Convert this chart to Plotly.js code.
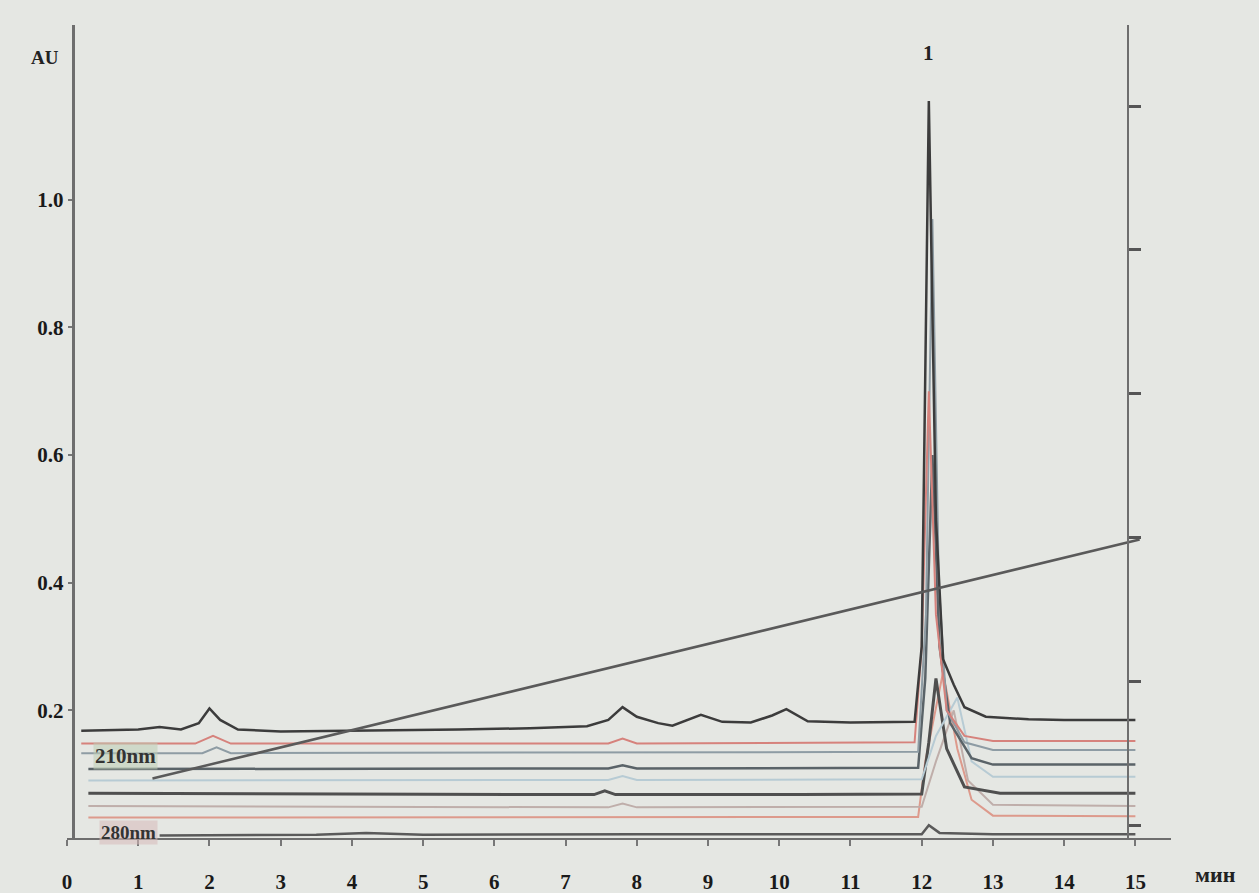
<!DOCTYPE html>
<html>
<head>
<meta charset="utf-8">
<script src="https://cdn.plot.ly/plotly-3.0.1.min.js"></script>
<style>
  html, body { margin: 0; padding: 0; background: #e5e7e3; }
  #chart { width: 1259px; height: 893px; }
</style>
</head>
<body>
<div id="chart"></div>
<script>
// ---- data ----
var xTicks = [0,1,2,3,4,5,6,7,8,9,10,11,12,13,14,15];
var yTicks = [0.2, 0.4, 0.6, 0.8, 1.0];
var yTickText = ['0.2', '0.4', '0.6', '0.8', '1.0'];

// trace A (dark grey, top baseline)
var tA = [0.2, 1.0, 1.3, 1.6, 1.85, 2.0, 2.15, 2.4, 3.0, 4.0, 4.5, 5.5, 6.5, 7.3, 7.6, 7.8, 8.0, 8.3, 8.5, 8.7, 8.9, 9.2, 9.6, 9.9, 10.1, 10.4, 11.0, 11.9, 12.0, 12.1, 12.2, 12.3, 12.45, 12.6, 12.9, 13.5, 14.0, 15.0];
var yA = [0.168, 0.170, 0.174, 0.170, 0.180, 0.203, 0.185, 0.170, 0.167, 0.168, 0.168, 0.170, 0.172, 0.175, 0.185, 0.205, 0.190, 0.180, 0.176, 0.185, 0.193, 0.182, 0.181, 0.192, 0.202, 0.183, 0.181, 0.182, 0.30, 1.155, 0.50, 0.28, 0.24, 0.205, 0.190, 0.186, 0.185, 0.185];
// trace B (pink/red)
var tB = [0.2, 1.8, 2.05, 2.3, 7.6, 7.8, 8.0, 11.9, 12.0, 12.1, 12.2, 12.35, 12.6, 13.0, 15.0];
var yB = [0.148, 0.148, 0.160, 0.148, 0.148, 0.156, 0.148, 0.150, 0.30, 0.70, 0.35, 0.20, 0.160, 0.152, 0.152];
// trace C (blue-grey)
var tC = [0.2, 1.9, 2.1, 2.3, 11.95, 12.06, 12.15, 12.24, 12.35, 12.6, 13.0, 15.0];
var yC = [0.133, 0.133, 0.142, 0.133, 0.135, 0.35, 0.97, 0.40, 0.20, 0.150, 0.138, 0.138];
// trace D (dark slate)
var tD = [0.3, 2.0, 7.6, 7.8, 8.0, 11.95, 12.05, 12.15, 12.25, 12.4, 12.7, 13.0, 15.0];
var yD = [0.108, 0.108, 0.109, 0.114, 0.109, 0.110, 0.25, 0.60, 0.30, 0.18, 0.125, 0.115, 0.115];
// trace E (light blue)
var tE = [0.3, 7.6, 7.8, 8.0, 12.0, 12.2, 12.5, 12.7, 13.0, 15.0];
var yE = [0.090, 0.091, 0.097, 0.091, 0.092, 0.16, 0.22, 0.12, 0.096, 0.096];
// trace F (dark grey)
var tF = [0.3, 4.8, 6.2, 7.4, 7.55, 7.7, 10.3, 12.0, 12.1, 12.2, 12.35, 12.6, 13.1, 15.0];
var yF = [0.070, 0.068, 0.068, 0.068, 0.074, 0.068, 0.068, 0.069, 0.15, 0.25, 0.14, 0.08, 0.070, 0.070];
// trace G (grey-pink)
var tG = [0.3, 3.0, 6.5, 7.6, 7.8, 8.0, 12.0, 12.2, 12.45, 12.65, 13.0, 15.0];
var yG = [0.050, 0.049, 0.048, 0.048, 0.054, 0.048, 0.049, 0.12, 0.20, 0.09, 0.052, 0.050];
// trace H (salmon)
var tH = [0.3, 5.0, 10.0, 11.95, 12.05, 12.3, 12.5, 12.7, 13.0, 15.0];
var yH = [0.032, 0.032, 0.033, 0.033, 0.12, 0.26, 0.14, 0.06, 0.035, 0.034];
// trace I (dark bottom baseline)
var tI = [1.3, 3.5, 4.2, 5.0, 8.0, 12.0, 12.1, 12.25, 13.0, 15.0];
var yI = [0.004, 0.005, 0.008, 0.005, 0.006, 0.006, 0.020, 0.008, 0.006, 0.006];

// gradient line (%B on right axis)
var tGrad = [1.2, 15.06];
var pGrad = [6.6, 39.8];

var traceNames = ['I', 'H', 'G', 'F', 'E', 'D', 'C', 'B', 'A'];
var traceX = [tI, tH, tG, tF, tE, tD, tC, tB, tA];
var traceY = [yI, yH, yG, yF, yE, yD, yC, yB, yA];
var traceColors = ['#5a5a5a', '#dd9a8c', '#bfaeaa', '#4f4f4f', '#b7cbd4', '#5a6368', '#8e9ca4', '#d6827c', '#3c3c3c'];
var traceWidths = [2.5, 2, 2, 3, 2, 2.5, 2, 2, 2.5];

var xMax = 15.5;
var yMax = 1.274;

var data = [];
for (var i = 0; i < traceNames.length; i++) {
  data.push({
    x: traceX[i], y: traceY[i], type: 'scatter', mode: 'lines',
    name: traceNames[i],
    line: { color: traceColors[i], width: traceWidths[i] },
    hoverinfo: 'skip', showlegend: false
  });
}
data.push({
  x: tGrad, y: pGrad, type: 'scatter', mode: 'lines', yaxis: 'y2',
  line: { color: '#5a5a5a', width: 2.5 }, showlegend: false, hoverinfo: 'skip'
});

var tickFont = { family: 'Liberation Serif, DejaVu Serif, serif', size: 21, color: '#1a1a1a', weight: 'bold' };

var layout = {
  width: 1259, height: 893,
  margin: { l: 67, r: 88, t: 25, b: 55 },
  paper_bgcolor: '#e5e7e3',
  plot_bgcolor: '#e5e7e3',
  showlegend: false,
  xaxis: {
    range: [0, xMax],
    tickvals: xTicks,
    ticks: 'outside', ticklen: 6, tickcolor: '#777', tickwidth: 2,
    ticklabelstandoff: 18,
    showline: true, linecolor: '#6e6e6e', linewidth: 2,
    showgrid: false, zeroline: false,
    tickfont: tickFont
  },
  yaxis: {
    range: [0, yMax],
    anchor: 'free', position: 0.08 / xMax,
    tickvals: yTicks, ticktext: yTickText,
    ticks: 'outside', ticklen: 4, tickcolor: '#777', tickwidth: 2,
    showline: true, linecolor: '#6e6e6e', linewidth: 3.5,
    showgrid: false, zeroline: false,
    tickfont: tickFont
  },
  yaxis2: {
    overlaying: 'y', side: 'right', anchor: 'free', position: 14.9 / xMax,
    range: [-1.67, 111.25],
    tick0: 0, dtick: 20,
    ticks: 'outside', ticklen: 12, tickcolor: '#555', tickwidth: 3,
    showticklabels: false,
    showline: true, linecolor: '#6e6e6e', linewidth: 2,
    showgrid: false, zeroline: false
  },
  annotations: [
    { text: 'AU', xref: 'paper', yref: 'paper', x: -0.02, y: 0.975, xanchor: 'center', showarrow: false,
      font: { family: 'Liberation Serif, serif', size: 19, color: '#222', weight: 'bold' } },
    { text: 'мин', xref: 'paper', yref: 'paper', x: 1.04, y: -0.045, xanchor: 'center', yanchor: 'middle', showarrow: false,
      font: { family: 'Liberation Serif, serif', size: 22, color: '#222', weight: 'bold' } },
    { text: '1', xref: 'x', yref: 'y', x: 12.1, y: 1.23, showarrow: false,
      font: { family: 'Liberation Serif, serif', size: 21, color: '#222', weight: 'bold' } },
    { text: '210nm', xref: 'x', yref: 'y', x: 1.28, y: 0.128, showarrow: false, xanchor: 'right',
      bgcolor: 'rgba(190,205,180,0.55)',
      font: { family: 'Liberation Serif, serif', size: 21, color: '#333', weight: 'bold' } },
    { text: '280nm', xref: 'x', yref: 'y', x: 1.28, y: 0.008, showarrow: false, xanchor: 'right',
      bgcolor: 'rgba(215,185,185,0.55)',
      font: { family: 'Liberation Serif, serif', size: 19, color: '#333', weight: 'bold' } }
  ]
};

Plotly.newPlot('chart', data, layout, { staticPlot: true, displayModeBar: false });
</script>
</body>
</html>
